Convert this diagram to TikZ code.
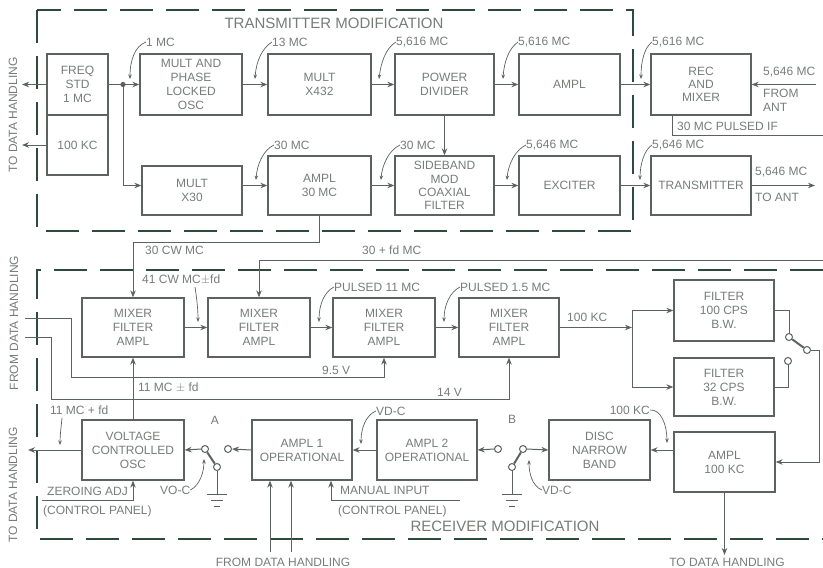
\documentclass[tikz,border=0pt]{standalone}
\usepackage{fontspec}
\setmainfont{Liberation Sans}
\usetikzlibrary{arrows.meta}
\definecolor{ln}{HTML}{5C625E}
\definecolor{dsh}{HTML}{2E4A3C}
\definecolor{txc}{HTML}{767C78}
\newcommand\myfnt{\fontsize{12}{14}\selectfont}
\newcommand\myhfnt{\fontsize{15}{17}\selectfont}
\begin{document}
\begin{tikzpicture}[x=1pt,y=-1pt,
  blk/.style={draw=ln, line width=1.3pt, inner sep=0pt, align=center, text=txc, font=\myfnt},
  lbl/.style={text=txc, font=\myfnt, inner sep=0pt},
  head/.style={text=txc, font=\myhfnt, inner sep=0pt},
  wire/.style={draw=ln, line width=1pt},
  arr/.style={wire, -{Stealth[length=7pt,width=5.5pt]}},
  ldr/.style={draw=ln, line width=0.7pt, -{Stealth[length=4.5pt,width=3.5pt]}},
  dbox/.style={draw=dsh, line width=2pt, dash pattern=on 33pt off 13pt},
  cnt/.style={circle, draw=ln, fill=white, line width=1pt, minimum size=7pt, inner sep=0pt},
  arm/.style={draw=ln, line width=2pt}]
\useasboundingbox (0,0) rectangle (823,568);

% dashed frames
\draw[dbox] (37,10) rectangle (633,231);
\draw[dbox] (823,270) -- (37,270) -- (37,539) -- (823,539);
\node[head] (thead) at (334,23) {TRANSMITTER MODIFICATION};
\node[head] (rhead) at (505,526) {RECEIVER MODIFICATION};

% transmitter row 1
\node[blk, minimum width=61pt, minimum height=61pt] (fstd) at (77.5,84.5) {FREQ\\STD\\1 MC};
\node[blk, minimum width=61pt, minimum height=60pt] (khz) at (77.5,145) {100 KC};
\node[blk, minimum width=102pt, minimum height=61pt] (mpl) at (191,84.5) {MULT AND\\PHASE\\LOCKED\\OSC};
\node[blk, minimum width=103pt, minimum height=61pt] (m432) at (319.5,84.5) {MULT\\X432};
\node[blk, minimum width=99pt, minimum height=61pt] (pdiv) at (444.5,84.5) {POWER\\DIVIDER};
\node[blk, minimum width=101pt, minimum height=61pt] (ampl) at (569.5,84.5) {AMPL};
\node[blk, minimum width=100pt, minimum height=61pt, font=\fontsize{12}{13}\selectfont] (rec) at (701,84.5) {REC\\AND\\MIXER};
% transmitter row 2
\node[blk, minimum width=100pt, minimum height=49pt] (m30) at (192,190.5) {MULT\\X30};
\node[blk, minimum width=103pt, minimum height=59pt] (a30) at (319.5,185.5) {AMPL\\30 MC};
\node[blk, minimum width=99pt, minimum height=59pt, font=\fontsize{12}{13.3}\selectfont] (sb) at (444.5,185.5) {SIDEBAND\\MOD\\COAXIAL\\FILTER};
\node[blk, minimum width=101pt, minimum height=59pt] (exc) at (569.5,185.5) {EXCITER};
\node[blk, minimum width=100pt, minimum height=59pt] (tx) at (701,185.5) {TRANSMITTER};

% transmitter connectors
\coordinate (tdh1) at (22,84.5);
\coordinate (tdh2) at (22,145);
\coordinate (antin) at (816,84.5);
\coordinate (pif) at (823,135);
\coordinate (toant) at (815,185.5);
\fill[ln] (123,84.5) circle (2.6pt) coordinate (dot);
\draw[arr] (fstd.west) -- (tdh1);
\draw[arr] (khz.west) -- (tdh2);
\draw[wire] (fstd.east) -- (dot);
\draw[arr] (dot) -- (mpl.west);
\draw[arr] (dot) |- (m30.west |- a30.west);
\draw[arr] (mpl.east) -- (m432.west);
\draw[arr] (m432.east) -- (pdiv.west);
\draw[arr] (pdiv.east) -- (ampl.west);
\draw[arr] (ampl.east) -- (rec.west);
\draw[arr] (antin) -- (rec.east);
\draw[wire] ([xshift=-29pt]rec.south) |- (pif);
\draw[arr] (a30.west -| m30.east) -- (a30.west);
\draw[arr] (a30.east) -- (sb.west);
\draw[arr] (sb.east) -- (exc.west);
\draw[arr] (exc.east) -- (tx.west);
\draw[arr] (tx.east) -- (toant);
\draw[arr] (pdiv.south) -- (sb.north);

% transmitter labels
\node[lbl, anchor=west] (l1) at (146,42) {1 MC};
\draw[ldr] (l1.west) .. controls (135,46) and (130,60) .. (130,79);
\node[lbl, anchor=west] (l2) at (272,42) {13 MC};
\draw[ldr] (l2.west) .. controls (262,48) and (256,62) .. (255,79);
\node[lbl, anchor=west] (l3) at (396,42) {5,616 MC};
\draw[ldr] (l3.west) .. controls (386,48) and (381,62) .. (379,79);
\node[lbl, anchor=west] (l4) at (518,42) {5,616 MC};
\draw[ldr] (l4.west) .. controls (509,48) and (504,62) .. (503,79);
\node[lbl, anchor=west] (l5) at (652,42) {5,616 MC};
\draw[ldr] (l5.west) .. controls (644,48) and (641,62) .. (641,79);
\node[lbl, anchor=west] (l6) at (274,145) {30 MC};
\draw[ldr] (l6.west) .. controls (263,150) and (257,165) .. (256,180);
\node[lbl, anchor=west] (l7) at (400,145) {30 MC};
\draw[ldr] (l7.west) .. controls (389,150) and (382,165) .. (381,180);
\node[lbl, anchor=west] (l8) at (526,145) {5,646 MC};
\draw[ldr] (l8.west) .. controls (515,150) and (508,165) .. (507,180);
\node[lbl, anchor=west] (l9) at (652,145) {5,646 MC};
\draw[ldr] (l9.west) .. controls (644,150) and (640,165) .. (640,180);
\node[lbl, anchor=west] (p7) at (677,126) {30 MC PULSED IF};
\node[lbl, anchor=west] (p8) at (763,72) {5,646 MC};
\node[lbl, anchor=west] (p9) at (763,93) {FROM};
\node[lbl, anchor=west] (p10) at (763,107) {ANT};
\node[lbl, anchor=west] (p11) at (755,172) {5,646 MC};
\node[lbl, anchor=west] (p12) at (755,197) {TO ANT};

% receiver row 1
\node[blk, minimum width=102pt, minimum height=59pt] (mx1) at (133,327.5) {MIXER\\FILTER\\AMPL};
\node[blk, minimum width=102pt, minimum height=59pt] (mx2) at (259,327.5) {MIXER\\FILTER\\AMPL};
\node[blk, minimum width=102pt, minimum height=59pt] (mx3) at (384,327.5) {MIXER\\FILTER\\AMPL};
\node[blk, minimum width=100pt, minimum height=59pt] (mx4) at (509,327.5) {MIXER\\FILTER\\AMPL};
\node[blk, minimum width=100pt, minimum height=61pt] (f100) at (724,310.5) {FILTER\\100 CPS\\B.W.};
\node[blk, minimum width=100pt, minimum height=58pt] (f32) at (724,387) {FILTER\\32 CPS\\B.W.};
% receiver row 2
\node[blk, minimum width=101pt, minimum height=60pt] (a100) at (724.5,462) {AMPL\\100 KC};
\node[blk, minimum width=101pt, minimum height=60pt] (disc) at (599.5,450) {DISC\\NARROW\\BAND};
\node[blk, minimum width=100pt, minimum height=60pt] (amp2) at (427,450) {AMPL 2\\OPERATIONAL};
\node[blk, minimum width=100pt, minimum height=60pt] (amp1) at (302,450) {AMPL 1\\OPERATIONAL};
\node[blk, minimum width=102pt, minimum height=60pt] (vco) at (133,450) {VOLTAGE\\CONTROLLED\\OSC};

% switches
\node[cnt] (c1) at (789,337) {};
\node[cnt] (c2) at (807,350) {};
\node[cnt] (c3) at (788,361) {};
\node[cnt] (cB0) at (498,449) {};
\node[cnt] (cB1) at (523,449) {};
\node[cnt] (cB2) at (512,467) {};
\node[cnt] (cA1) at (228,449) {};
\node[cnt] (cA2) at (205,449) {};
\node[cnt] (cA3) at (217,467) {};
\draw[arm] (c2) -- (c1);
\draw[arm] (cB1) -- (cB2);
\draw[arm] (cA2) -- (cA3);

% receiver connectors
\coordinate (fdin) at (823,260);
\coordinate (split) at (632,327.5);
\coordinate (in1) at (25,318);
\coordinate (in2) at (25,337);
\coordinate (tdh3) at (724.5,555);
\coordinate (tdh4) at (28,450);
\coordinate (z0) at (42,500);
\coordinate (man) at (460,500);
\coordinate (fd1) at (270,552);
\coordinate (fd2) at (291,552);
\draw[arr] (a30.south) -- ++(0,26.5) -| (mx1.north);
\draw[arr] (fdin) -| (mx2.north);
\draw[arr] (mx1.east) -- (mx2.west);
\draw[arr] (mx2.east) -- (mx3.west);
\draw[arr] (mx3.east) -- (mx4.west);
\draw[arr] (mx4.east) -- (split);
\draw[arr] (split) |- (f100.west);
\draw[arr] (split) |- (f32.west);
\draw[wire] (f100.east) -| (c1.north);
\draw[wire] (f32.east) -| (c3.south);
\draw[arr] (c2.east) -- (819,350) |- (a100.east);
\draw[arr] (disc.east -| a100.west) -- (disc.east);
\draw[arr] (a100.south) -- (tdh3);
\draw[arr] (cB1.east) -- (disc.west);
\draw[arr] (cB0.west) -- (amp2.east);
\draw[arr] (amp2.west) -- (amp1.east);
\draw[arr] (amp1.west) -- (cA1.east);
\draw[arr] (cA2.west) -- (vco.east);
\draw[arr] (vco.west) -- (tdh4);
\draw[arr] (vco.north) -- (mx1.south);
\draw[arr] (in1) -- (71,318) -- (71,377) -| (mx3.south);
\draw[arr] (in2) -- (51,337) -- (51,399) -| (mx4.south);
\draw[arr] (z0) -| (vco.south);
\draw[arr] (man) -| ([xshift=29pt]amp1.south);
\draw[arr] (fd1) -- (fd1 |- amp1.south);
\draw[arr] (fd2) -- (fd2 |- amp1.south);
% grounds
\foreach \g in {cA3,cB2}{
  \draw[wire] (\g.south) -- ++(0,23) coordinate (gg);
  \draw[wire] ([xshift=-10pt]gg) -- ([xshift=10pt]gg);
  \draw[wire] ([xshift=-6pt,yshift=-6pt]gg) -- ([xshift=6pt,yshift=-6pt]gg);
  \draw[wire] ([xshift=-3pt,yshift=-12pt]gg) -- ([xshift=3pt,yshift=-12pt]gg);
}

% receiver labels
\node[lbl, anchor=west] (l10) at (142,280) {41 CW MC$\pm$fd};
\draw[ldr] (195,287) .. controls (197,300) and (198,310) .. (198,322);
\node[lbl, anchor=west] (l11) at (334,287) {PULSED 11 MC};
\draw[ldr] (l11.west) .. controls (324,292) and (319,305) .. (319,322);
\node[lbl, anchor=west] (l12) at (460,287) {PULSED 1.5 MC};
\draw[ldr] (l12.west) .. controls (450,292) and (444,305) .. (444,322);
\node[lbl, anchor=east] (l13) at (650,410) {100 KC};
\draw[ldr] (l13.east) .. controls (661,409) and (667,425) .. (667,443);
\node[lbl, anchor=west] (l14) at (376,411) {VD-C};
\draw[ldr] (l14.west) .. controls (366,415) and (361,428) .. (361,444);
\node[lbl, anchor=west] (l15) at (160,490) {VO-C};
\draw[ldr] (l15.east) .. controls (200,485) and (204,472) .. (204,459);
\node[lbl, anchor=west] (l16) at (542,490) {VD-C};
\draw[ldr] (l16.west) .. controls (532,486) and (529,473) .. (529,460);
\node[lbl, anchor=west] (l17) at (50,410) {11 MC + fd};
\draw[ldr] (62,418) .. controls (61,428) and (60,436) .. (60,445);
\node[lbl, anchor=west] (p1) at (567,317) {100 KC};
\node[lbl, anchor=west] (p2) at (145,250) {30 CW MC};
\node[lbl, anchor=west] (p3) at (362,250) {30 + fd MC};
\node[lbl, anchor=west] (p4) at (322,370) {9.5 V};
\node[lbl, anchor=west] (p5) at (138,388) {11 MC $\pm$ fd};
\node[lbl, anchor=west] (p6) at (437,392) {14 V};
\node[lbl] (pA) at (215,420) {A};
\node[lbl] (pB) at (512,419) {B};
\node[lbl, anchor=west] (p13) at (47,491) {ZEROING ADJ};
\node[lbl, anchor=west] (p14) at (43,511) {(CONTROL PANEL)};
\node[lbl, anchor=west] (p15) at (340,490) {MANUAL INPUT};
\node[lbl, anchor=west] (p16) at (338,511) {(CONTROL PANEL)};
\node[lbl] (p17) at (283,562) {FROM DATA HANDLING};
\node[lbl] (p18) at (727,562) {TO DATA HANDLING};
\node[lbl, rotate=90] (r1) at (13,115) {TO DATA HANDLING};
\node[lbl, rotate=90] (r2) at (14,323) {FROM DATA HANDLING};
\node[lbl, rotate=90] (r3) at (13,485) {TO DATA HANDLING};
\end{tikzpicture}
\end{document}
